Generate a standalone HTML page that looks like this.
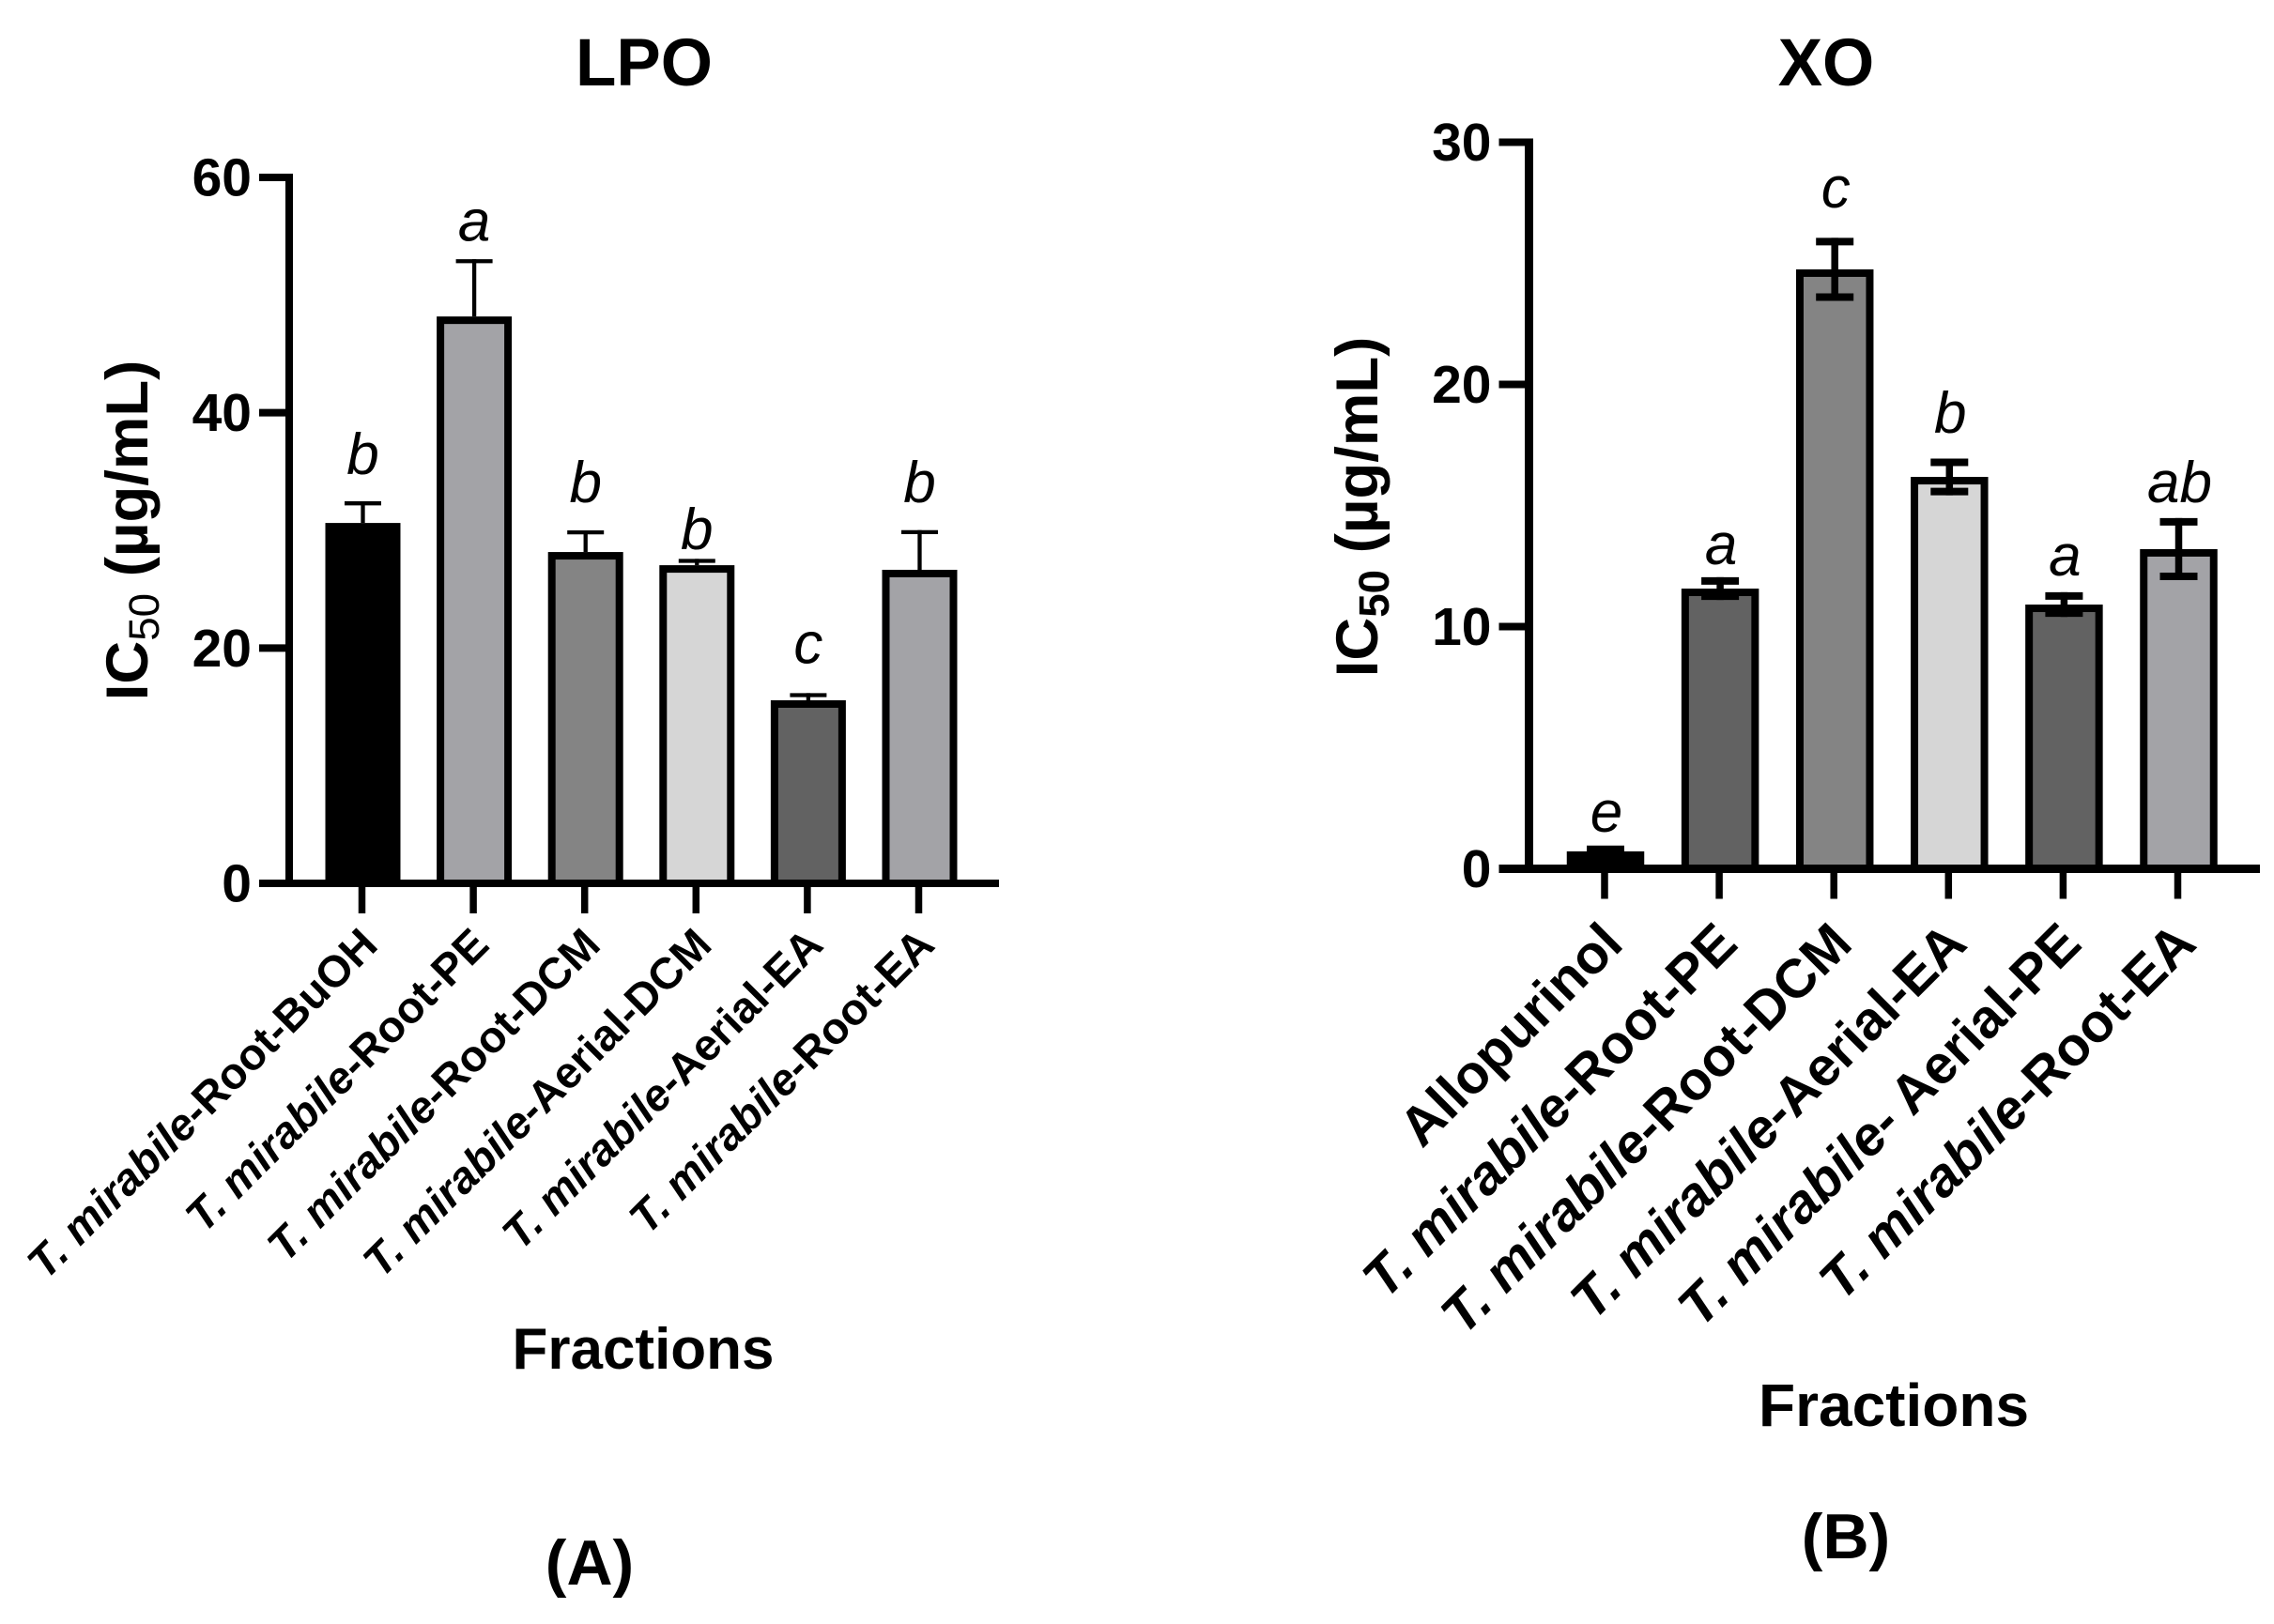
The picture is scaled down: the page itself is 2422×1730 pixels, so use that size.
<!DOCTYPE html>
<html lang="en">
<head>
<meta charset="utf-8">
<title>LPO and XO IC50 bar charts</title>
<style>
html,body{margin:0;padding:0;background:#fff;}
svg{display:block;}
text{font-family:"Liberation Sans",sans-serif;fill:#000;}
</style>
</head>
<body>
<svg id="figure" xmlns="http://www.w3.org/2000/svg" width="2422" height="1730" viewBox="0 0 2422 1730">
<rect width="2422" height="1730" fill="#fff"/>
</svg>
<script>
// LPO chart data
const lpoCategories = [
  ["T. mirabile", "-Root-BuOH"],
  ["T. mirabile", "-Root-PE"],
  ["T. mirabile", "-Root-DCM"],
  ["T. mirabile", "-Aerial-DCM"],
  ["T. mirabile", "-Aerial-EA"],
  ["T. mirabile", "-Root-EA"]
];
const lpoValues = [30.63, 48.18, 28.16, 27.04, 15.56, 26.65];
const lpoErrors = [1.84, 4.87, 1.84, 0.54, 0.61, 3.37];
const lpoLetters = ["b", "a", "b", "b", "c", "b"];
const lpoLetterLevels = [34.78, 54.6, 32.4, 28.4, 18.7, 32.4];
const lpoTicks = [0, 20, 40, 60];
const lpoFills = ["#000000", "#a3a3a7", "#848484", "#d6d6d6", "#626262", "#a3a3a7"];

// XO chart data
const xoCategories = [
  ["", "Allopurinol"],
  ["T. mirabile", "-Root-PE"],
  ["T. mirabile", "-Root-DCM"],
  ["T. mirabile", "-Aerial-EA"],
  ["T. mirabile", "- Aerial-PE"],
  ["T. mirabile", "-Root-EA"]
];
const xoValues = [0.72, 11.57, 24.75, 16.18, 10.91, 13.2];
const xoErrors = [0.07, 0.47, 1.3, 0.76, 0.51, 1.28];
const xoLetters = ["e", "a", "c", "b", "a", "ab"];
const xoLetterLevels = [1.53, 12.58, 27.3, 18.0, 12.11, 15.13];
const xoTicks = [0, 10, 20, 30];
const xoFills = ["#000000", "#626262", "#848484", "#d6d6d6", "#626262", "#a3a3a7"];

const svg = document.getElementById("figure");
const NS = "http://www.w3.org/2000/svg";

function make(tag, attrs, parent) {
  const el = document.createElementNS(NS, tag);
  for (const k in attrs) el.setAttribute(k, attrs[k]);
  (parent || svg).appendChild(el);
  return el;
}

function drawChart(c) {
  const g = make("g", {});
  
  

  const y = v => c.y0 + (c.yTop - c.y0) * v / c.yMax;
  const x = i => c.x0 + c.step * i;

  // bars
  c.values.forEach((v, i) => {
    const bar = make("rect", {
      x: x(i) - c.barW / 2 + 4,
      y: y(v) + 4,
      width: c.barW - 8,
      height: Math.max(0, y(0) - y(v) - 4),
      fill: c.fills[i], stroke: "#000", "stroke-width": 8
    }, g);
    
    
  });

  // error bars
  c.values.forEach((v, i) => {
    const hi = y(v + c.errors[i]);
    const lo = c.twoSided ? y(v - c.errors[i]) : y(v);
    const stem = make("line", {x1: x(i), x2: x(i), y1: hi, y2: lo, stroke: "#000", "stroke-width": c.errW}, g);
    
    
    const capHi = make("line", {x1: x(i) - c.capW / 2, x2: x(i) + c.capW / 2, y1: hi + c.capT / 2, y2: hi + c.capT / 2, stroke: "#000", "stroke-width": c.capT}, g);
    
    
    if (c.twoSided) {
      const capLo = make("line", {x1: x(i) - c.capW / 2, x2: x(i) + c.capW / 2, y1: lo - c.capT / 2, y2: lo - c.capT / 2, stroke: "#000", "stroke-width": c.capT}, g);
      
      
    }
  });

  // axes
  const yAxis = make("line", {x1: c.axisX, x2: c.axisX, y1: y(c.yMax) - 4, y2: y(0) + c.axisT / 2, stroke: "#000", "stroke-width": c.axisT}, g);
  
  
  const xAxis = make("line", {x1: c.axisX - 32, x2: c.axisEnd, y1: y(0), y2: y(0), stroke: "#000", "stroke-width": c.axisT}, g);
  
  

  // y ticks and labels
  c.ticks.forEach(t => {
    const tick = make("line", {x1: c.axisX - 32, x2: c.axisX, y1: y(t), y2: y(t), stroke: "#000", "stroke-width": 8}, g);
    
    
    const lab = make("text", {x: c.axisX - 40, y: y(t) + 19.5, "text-anchor": "end", "font-size": 57, "font-weight": "bold"}, g);
    lab.textContent = String(t);
    
    
  });

  // x ticks and rotated labels
  c.categories.forEach((cat, i) => {
    const tx = x(i) - 1;
    const tick = make("line", {x1: tx, x2: tx, y1: y(0), y2: y(0) + 32, stroke: "#000", "stroke-width": 7.5}, g);
    
    
    const ax = x(i) + c.labelDx, ay = c.labelY;
    const lab = make("text", {x: ax, y: ay, "text-anchor": "end", "font-size": c.labelSize, "font-weight": "bold", transform: "rotate(-45 " + ax + " " + ay + ")"}, g);
    
    
    if (cat[0]) {
      const it = make("tspan", {"font-style": "italic"}, lab);
      it.textContent = cat[0];
    }
    const rest = make("tspan", {}, lab);
    rest.textContent = cat[1];
  });

  // significance letters
  c.letters.forEach((l, i) => {
    const t = make("text", {x: x(i) + c.letterDx, y: y(c.letterLevels[i]), "text-anchor": "middle", "font-size": 62, "font-style": "italic"}, g);
    t.textContent = l;
    
    
  });

  // chart title
  const title = make("text", {x: c.titleX, y: c.titleY, "text-anchor": "middle", "font-size": 71, "font-weight": "bold"}, g);
  title.textContent = c.title;
  
  

  // y-axis title
  const yt = make("text", {x: 0, y: 0, "text-anchor": "middle", "font-size": c.yTitleSize, "font-weight": "bold",
    transform: "translate(" + c.yTitleX + " " + c.yTitleY + ") rotate(-90)"}, g);
  
  
  const p1 = make("tspan", {}, yt);
  p1.textContent = "IC";
  const p2 = make("tspan", {dy: 12, "font-size": c.yTitleSize * 0.72, "font-weight": c.subWeight}, yt);
  p2.textContent = "50";
  const p3 = make("tspan", {dy: -12}, yt);
  p3.textContent = " (µg/mL)";

  // x-axis title
  const xt = make("text", {x: c.xTitleX, y: c.xTitleY, "text-anchor": "middle", "font-size": c.xTitleSize, "font-weight": "bold"}, g);
  xt.textContent = "Fractions";
  
  

  // panel tag
  const tag = make("text", {x: c.tagX, y: c.tagY, "text-anchor": "middle", "font-size": 68, "font-weight": "bold"}, g);
  tag.textContent = c.tag;
  
  
}

drawChart({
  id: "lpo", title: "LPO", tag: "(A)",
  categories: lpoCategories, values: lpoValues, errors: lpoErrors, letters: lpoLetters,
  letterLevels: lpoLetterLevels, ticks: lpoTicks, fills: lpoFills,
  yMax: 60, y0: 941, yTop: 189, axisX: 308, axisEnd: 1064, axisT: 8, x0: 386.5, step: 118.6, barW: 80,
  errW: 4.3, capT: 4.3, capW: 39, twoSided: false, labelDx: 18, labelY: 1009, labelSize: 47, letterDx: 0,
  titleX: 686, titleY: 91, yTitleX: 157, yTitleY: 565, yTitleSize: 63.5, subWeight: "normal",
  xTitleX: 685, xTitleY: 1458, xTitleSize: 62, tagX: 628, tagY: 1688
});

drawChart({
  id: "xo", title: "XO", tag: "(B)",
  categories: xoCategories, values: xoValues, errors: xoErrors, letters: xoLetters,
  letterLevels: xoLetterLevels, ticks: xoTicks, fills: xoFills,
  yMax: 30, y0: 925.5, yTop: 151.5, axisX: 1628.5, axisEnd: 2407, axisT: 9, x0: 1710, step: 122.1, barW: 82.5,
  errW: 7.5, capT: 8, capW: 40, twoSided: true, labelDx: 21, labelY: 1008, labelSize: 58, letterDx: 1,
  titleX: 1945, titleY: 91, yTitleX: 1467, yTitleY: 540, yTitleSize: 63.5, subWeight: "bold",
  xTitleX: 2017, xTitleY: 1519, xTitleSize: 64, tagX: 1966, tagY: 1660
});
</script>
</body>
</html>
